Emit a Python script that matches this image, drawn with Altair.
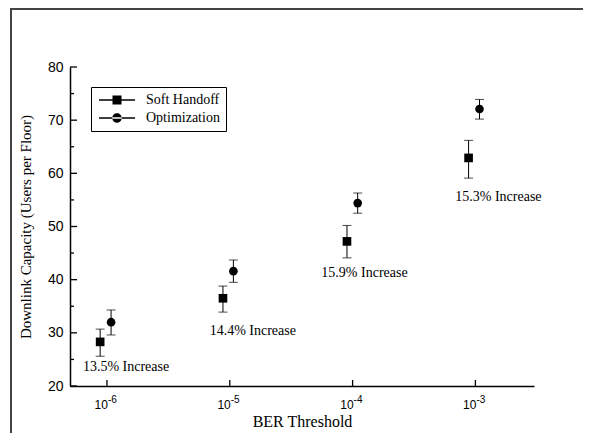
import altair as alt
import pandas as pd

# ---- data ----
series_names = ["Soft Handoff", "Optimization"]
ber_ticks = [1e-6, 1e-5, 1e-4, 1e-3]
ber_exp = ["-6", "-5", "-4", "-3"]

soft_x = [8.8e-7, 8.8e-6, 9.0e-5, 8.8e-4]
soft_val = [28.3, 36.5, 47.2, 62.9]
soft_lo = [25.6, 33.9, 44.1, 59.1]
soft_hi = [30.7, 38.8, 50.2, 66.2]

opt_x = [1.08e-6, 1.07e-5, 1.10e-4, 1.08e-3]
opt_val = [32.0, 41.6, 54.4, 72.1]
opt_lo = [29.6, 39.5, 52.5, 70.2]
opt_hi = [34.3, 43.7, 56.3, 73.9]

note_text = ["13.5% Increase", "14.4% Increase", "15.9% Increase", "15.3% Increase"]
note_x = [1.43e-6, 1.54e-5, 1.25e-4, 1.54e-3]
note_y = [23.6, 30.3, 41.2, 55.5]

y_major = [20, 30, 40, 50, 60, 70, 80]
y_minor = [25, 35, 45, 55, 65, 75]

W, H = 464, 319
SERIF = "Liberation Serif, Times New Roman, DejaVu Serif, serif"
SANS = "Liberation Sans, Arial, sans-serif"

soft = pd.DataFrame({"series": series_names[0], "x": soft_x, "val": soft_val, "lo": soft_lo, "hi": soft_hi})
opt = pd.DataFrame({"series": series_names[1], "x": opt_x, "val": opt_val, "lo": opt_lo, "hi": opt_hi})
allpts = pd.concat([soft, opt], ignore_index=True)
notes = pd.DataFrame({"text": note_text, "x": note_x, "y": note_y})
xt = pd.DataFrame({"x": ber_ticks, "exp": ber_exp})
ymaj = pd.DataFrame({"y": y_major})
ymin = pd.DataFrame({"y": y_minor})

xscale = alt.Scale(type="log", domain=[5e-7, 3e-3])
yscale = alt.Scale(domain=[20, 80])

X = alt.X("x:Q", scale=xscale,
          axis=alt.Axis(labels=False, ticks=False, grid=False, title="BER Threshold",
                        titleFont=SERIF, titleFontSize=16, titleFontWeight="normal",
                        titleColor="black", titlePadding=27, domainColor="black", domainWidth=1.5))

def Y(field):
    return alt.Y(field, scale=yscale,
                 axis=alt.Axis(values=y_major, ticks=False, grid=False,
                               labelFont=SANS, labelFontSize=14, labelColor="black",
                               labelPadding=7, title="Downlink Capacity (Users per Floor)",
                               titleFont=SERIF, titleFontSize=15, titleFontWeight="normal",
                               titleColor="black", titlePadding=14,
                               domainColor="black", domainWidth=1.5))

errbars = alt.Chart(allpts).mark_errorbar(ticks=alt.MarkConfig(size=9), color="black", thickness=1).encode(
    x=X, y=Y("lo:Q"), y2="hi:Q")

sq = alt.Chart(soft).mark_point(shape="square", filled=True, opacity=1, color="black", size=75).encode(
    x=X, y=Y("val:Q"))
ci = alt.Chart(opt).mark_point(shape="circle", filled=True, opacity=1, color="black", size=75).encode(
    x=X, y=Y("val:Q"))

path_sq = "M-4,-0.17H4V0.17H-4ZM-1,-1H1V1H-1Z"
path_ci = "M-4,-0.17H4V0.17H-4ZM-1.05,0A1.05,1.05 0 1,0 1.05,0A1.05,1.05 0 1,0 -1.05,0Z"

legend_layer = alt.Chart(allpts).transform_calculate(yy="-100").mark_point(
    filled=True, opacity=1, clip=True, color="black", size=81).encode(
    x=X,
    y=alt.Y("yy:Q", scale=yscale),
    shape=alt.Shape("series:N", scale=alt.Scale(domain=series_names, range=[path_sq, path_ci]),
                    legend=alt.Legend(title=None, orient="none", legendX=21, legendY=20,
                                      strokeColor="black", fillColor="white", padding=6,
                                      labelFont=SERIF, labelFontSize=14, labelColor="black",
                                      symbolSize=81, symbolFillColor="black", symbolStrokeColor="black",
                                      symbolStrokeWidth=0, symbolOpacity=1, symbolOffset=13,
                                      labelOffset=22, rowPadding=4)))

notes_layer = alt.Chart(notes).mark_text(font=SERIF, fontSize=14, color="black",
                                          baseline="middle", align="center").encode(
    x=X, y=alt.Y("y:Q", scale=yscale), text="text:N")

ytick_major = alt.Chart(ymaj).mark_rule(color="black", strokeWidth=1.3).encode(
    y=alt.Y("y:Q", scale=yscale), x=alt.value(0), x2=alt.value(7))
ytick_minor = alt.Chart(ymin).mark_rule(color="black", strokeWidth=1.3).encode(
    y=alt.Y("y:Q", scale=yscale), x=alt.value(0), x2=alt.value(4))
xtick = alt.Chart(xt).mark_rule(color="black", strokeWidth=1.3).encode(
    x=alt.X("x:Q", scale=xscale), y=alt.value(H), y2=alt.value(H - 6))

xlab_base = alt.Chart(xt).mark_text(font=SANS, fontSize=12, color="black",
                                     align="right", baseline="alphabetic", dx=1).encode(
    x=alt.X("x:Q", scale=xscale), y=alt.value(H + 23), text=alt.value("10"))
xlab_exp = alt.Chart(xt).mark_text(font=SANS, fontSize=10, color="black",
                                    align="left", baseline="alphabetic", dx=1).encode(
    x=alt.X("x:Q", scale=xscale), y=alt.value(H + 17), text="exp:N")

one = alt.Data(values=[{"a": 1}])
frame_left = alt.Chart(one).mark_rule(color="#444444", strokeWidth=2).encode(
    x=alt.value(-59), y=alt.value(-58), y2=alt.value(H + 80))
frame_top = alt.Chart(one).mark_rule(color="#444444", strokeWidth=2).encode(
    y=alt.value(-58), x=alt.value(-60), x2=alt.value(W + 80))

chart = alt.layer(
    frame_left, frame_top,
    ytick_major, ytick_minor, xtick, xlab_base, xlab_exp,
    errbars, sq, ci, notes_layer, legend_layer
).properties(
    width=W, height=H,
    autosize=alt.AutoSizeParams(type="none"),
    padding={"left": 62, "top": 59, "right": 49, "bottom": 47},
    background="white"
).configure_view(stroke=None)

chart.save("out.html", embed_options={"renderer": "svg", "actions": False})
